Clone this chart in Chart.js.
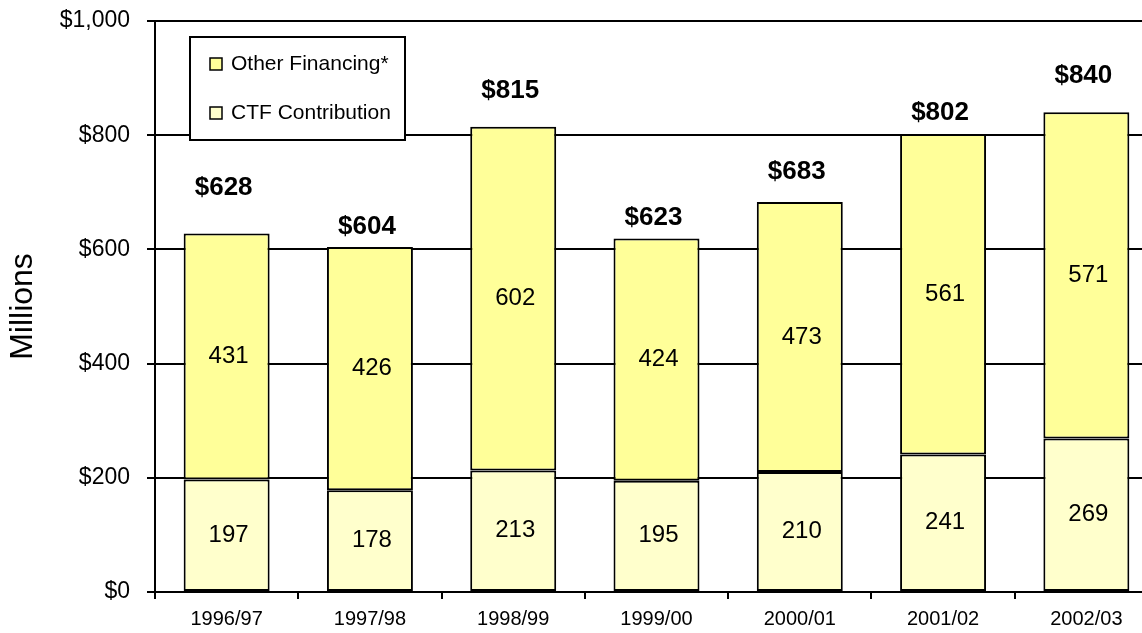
<!DOCTYPE html>
<html>
<head>
<meta charset="utf-8">
<script src="https://cdn.jsdelivr.net/npm/chart.js@4/dist/chart.umd.min.js"></script>
<style>
  html, body { margin: 0; padding: 0; background: #fff; overflow: hidden; }
  #wrap { width: 1158px; height: 633px; position: relative; }
</style>
</head>
<body>
<div id="wrap"><canvas id="c"></canvas></div>
<script>
// Fiscal years and funding amounts ($ millions)
const years = ['1996/97', '1997/98', '1998/99', '1999/00', '2000/01', '2001/02', '2002/03'];
const ctfContribution = [197, 178, 213, 195, 210, 241, 269];
const otherFinancing = [431, 426, 602, 424, 473, 561, 571];
const totalLabels = ['$628', '$604', '$815', '$623', '$683', '$802', '$840'];
const yTickValues = [0, 200, 400, 600, 800, 1000];

const FONT = '"Liberation Sans", Arial, Helvetica, sans-serif';

// Numbers inside each segment, bold totals above each column
const valueLabels = {
  id: 'valueLabels',
  afterDatasetsDraw(chart, args, opts) {
    const ctx = chart.ctx;
    ctx.save();
    ctx.fillStyle = '#000';
    ctx.textAlign = 'center';
    ctx.textBaseline = 'middle';
    ctx.font = '24px ' + FONT;
    chart.data.datasets.forEach((ds, di) => {
      const meta = chart.getDatasetMeta(di);
      meta.data.forEach((bar, i) => {
        const p = bar.getProps(['x', 'y', 'base'], true);
        ctx.fillText(String(ds.data[i]), p.x + 2, (p.y + p.base) / 2);
      });
    });
    const topMeta = chart.getDatasetMeta(chart.data.datasets.length - 1);
    ctx.font = 'bold 26px ' + FONT;
    topMeta.data.forEach((bar, i) => {
      const p = bar.getProps(['x', 'y'], true);
      ctx.fillText(totalLabels[i], p.x - 3, p.y - opts.lift[i]);
    });
    ctx.restore();
  }
};

// Boxed legend inside the plot area, upper left
const boxLegend = {
  id: 'boxLegend',
  afterDraw(chart) {
    const ctx = chart.ctx;
    const a = chart.chartArea;
    const x0 = a.left + 35, y0 = a.top + 16, w = 215, h = 103;
    ctx.save();
    ctx.fillStyle = '#fff';
    ctx.fillRect(x0, y0, w, h);
    ctx.strokeStyle = '#000';
    ctx.lineWidth = 2;
    ctx.strokeRect(x0, y0, w, h);
    const items = chart.data.datasets.slice().reverse();
    ctx.font = '21px ' + FONT;
    ctx.textBaseline = 'middle';
    ctx.textAlign = 'left';
    items.forEach((ds, k) => {
      const cy = y0 + 27 + k * 49;
      ctx.fillStyle = ds.backgroundColor;
      ctx.fillRect(x0 + 20, cy - 6, 12, 12);
      ctx.lineWidth = 1.5;
      ctx.strokeRect(x0 + 20, cy - 6, 12, 12);
      ctx.fillStyle = '#000';
      ctx.fillText(ds.label, x0 + 41, cy);
    });
    ctx.restore();
  }
};

new Chart(document.getElementById('c'), {
  type: 'bar',
  data: {
    labels: years,
    datasets: [
      {
        label: 'CTF Contribution',
        data: ctfContribution,
        backgroundColor: '#FFFFCC',
        borderColor: '#000',
        borderWidth: 2,
        borderSkipped: false
      },
      {
        label: 'Other Financing*',
        data: otherFinancing,
        backgroundColor: '#FFFF99',
        borderColor: '#000',
        borderWidth: 2,
        borderSkipped: false
      }
    ]
  },
  options: {
    responsive: true,
    maintainAspectRatio: false,
    devicePixelRatio: 1,
    animation: false,
    layout: { padding: { top: 21, right: 0, bottom: 0, left: 0 } },
    datasets: { bar: { barPercentage: 0.6, categoryPercentage: 1 } },
    plugins: {
      legend: { display: false },
      tooltip: { enabled: false },
      valueLabels: { lift: [46, 20, 36, 21, 30, 21, 37] }
    },
    scales: {
      x: {
        stacked: true,
        offset: true,
        grid: { display: true, drawOnChartArea: false, drawTicks: true, tickLength: 7, color: '#000', lineWidth: 2 },
        border: { display: true, color: '#000', width: 2 },
        ticks: { color: '#000', font: { family: FONT, size: 20 }, padding: 8, maxRotation: 0 },
        afterFit(s) { s.height = 41; s.paddingLeft = 0; s.paddingRight = 0; }
      },
      y: {
        stacked: true,
        min: 0,
        max: 1000,
        afterBuildTicks(s) { s.ticks = yTickValues.map(v => ({ value: v })); },
        grid: { color: '#000', lineWidth: 2, drawTicks: true, tickLength: 8 },
        border: { display: true, color: '#000', width: 2 },
        ticks: {
          color: '#000',
          font: { family: FONT, size: 23 },
          padding: 17,
          callback: v => '$' + Number(v).toLocaleString('en-US')
        },
        title: {
          display: true,
          text: 'Millions',
          color: '#000',
          font: { family: FONT, size: 32 },
          padding: { top: 4, bottom: 0 }
        },
        afterFit(s) { s.width = 155; s.paddingTop = 0; s.paddingBottom = 0; }
      }
    }
  },
  plugins: [valueLabels, boxLegend]
});
</script>
</body>
</html>
